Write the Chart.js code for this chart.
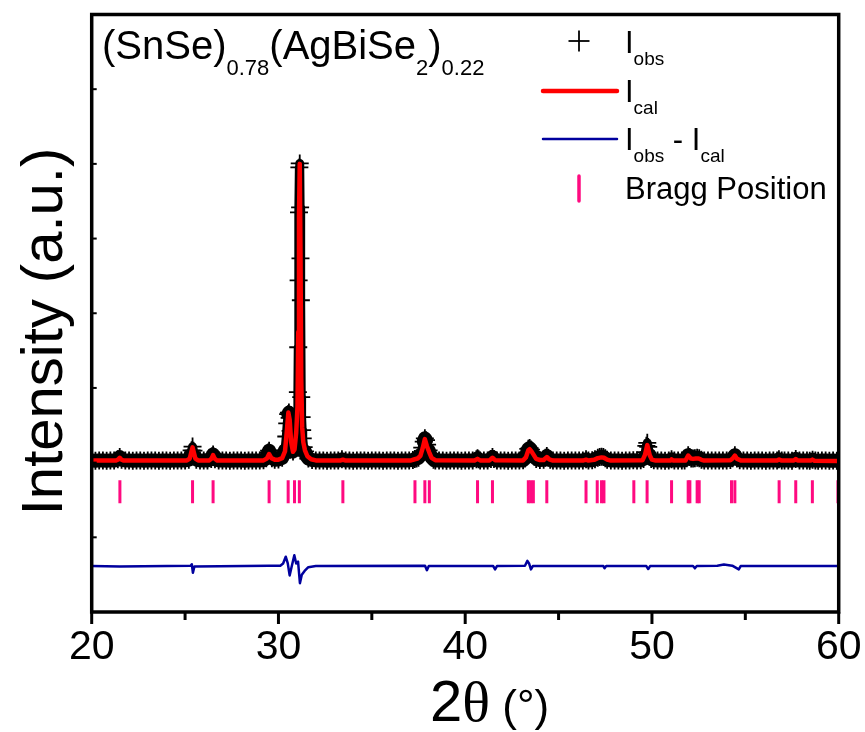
<!DOCTYPE html>
<html>
<head>
<meta charset="utf-8">
<title>(SnSe)0.78(AgBiSe2)0.22 Rietveld refinement</title>
<script src="https://cdn.jsdelivr.net/npm/chart.js@4.4.1/dist/chart.umd.min.js"></script>
<style>
  html, body { margin: 0; padding: 0; background: #ffffff; }
  #wrap { width: 865px; height: 732px; }
</style>
</head>
<body>
<div id="wrap"><canvas id="xrd" width="865" height="732"></canvas></div>
<script>
// ---- Pattern data: [2theta (deg), intensity (a.u.)] ----

// Calculated profile (red)
const calculated = [
  [20.0, 55], [21.3, 55], [21.42, 85], [21.5, 130], [21.58, 85], [21.7, 55],
  [25.1, 60], [25.25, 110], [25.33, 270], [25.4, 410], [25.47, 270], [25.55, 110], [25.7, 60],
  [26.3, 60], [26.42, 110], [26.5, 200], [26.58, 110], [26.7, 60],
  [29.2, 60], [29.38, 110], [29.5, 230], [29.62, 120], [29.8, 80],
  [30.0, 80], [30.2, 120], [30.35, 300], [30.45, 850], [30.53, 1340], [30.6, 1150], [30.68, 550],
  [30.78, 290], [30.86, 350], [30.95, 800],
  [31.02, 1500], [31.06, 3500], [31.1, 6600], [31.14, 8000], [31.18, 5600], [31.22, 2250],
  [31.27, 950], [31.33, 550], [31.42, 330], [31.55, 170], [31.75, 90], [32.0, 60],
  [33.3, 55], [33.45, 80], [33.6, 55],
  [37.1, 60], [37.3, 90], [37.45, 110], [37.6, 180], [37.72, 380], [37.84, 630], [37.95, 440],
  [38.08, 270], [38.2, 130], [38.4, 65],
  [40.5, 55], [40.66, 100], [40.8, 60],
  [41.3, 60], [41.46, 130], [41.6, 65],
  [43.1, 60], [43.25, 140], [43.38, 330], [43.45, 360], [43.55, 300], [43.65, 220], [43.8, 100],
  [44.0, 70], [44.2, 70], [44.37, 150], [44.5, 90], [44.7, 55],
  [46.3, 55], [46.47, 80], [46.6, 55], [46.9, 75], [47.1, 120], [47.3, 140], [47.43, 130],
  [47.6, 80], [47.8, 55],
  [49.5, 65], [49.62, 200], [49.75, 470], [49.88, 200], [50.0, 80], [50.2, 55],
  [51.0, 55], [51.05, 85], [51.15, 55],
  [51.8, 60], [51.94, 190], [52.08, 110], [52.2, 100], [52.35, 110], [52.5, 110], [52.65, 75], [52.8, 55],
  [54.2, 65], [54.32, 110], [54.44, 190], [54.56, 100], [54.75, 60],
  [56.7, 55], [56.81, 85], [56.95, 55],
  [57.6, 55], [57.7, 95], [57.8, 55],
  [58.5, 55], [58.59, 80], [58.7, 50],
  [60.0, 45]
];

// Observed counts (black crosses)
const observed = [
  [20.0, 55], [20.2, 50], [20.4, 60], [20.6, 55], [20.8, 50], [21.0, 60], [21.2, 55],
  [21.4, 90], [21.5, 150], [21.6, 80], [21.8, 55], [22.0, 60], [22.2, 50], [22.4, 55],
  [22.6, 60], [22.8, 50], [23.0, 55], [23.2, 60], [23.4, 55], [23.6, 50], [23.8, 60],
  [24.0, 55], [24.2, 50], [24.4, 60], [24.6, 55], [24.8, 55], [25.0, 60],
  [25.2, 80], [25.3, 200], [25.35, 330], [25.4, 430], [25.45, 320], [25.5, 170], [25.6, 80],
  [25.8, 60], [26.0, 55], [26.2, 60],
  [26.4, 100], [26.45, 170], [26.5, 220], [26.55, 160], [26.6, 90], [26.8, 60],
  [27.0, 55], [27.2, 60], [27.4, 50], [27.6, 55], [27.8, 60], [28.0, 55], [28.2, 50],
  [28.4, 60], [28.6, 55], [28.8, 60], [29.0, 55], [29.2, 65],
  [29.35, 120], [29.45, 270], [29.5, 320], [29.55, 250], [29.65, 120], [29.8, 80],
  [30.0, 85], [30.2, 130], [30.35, 330], [30.42, 700], [30.47, 1050], [30.52, 1300],
  [30.56, 1340], [30.6, 1200], [30.65, 850], [30.7, 500], [30.78, 300], [30.86, 360],
  [30.93, 600], [31.0, 1217], [31.04, 1886], [31.06, 3090], [31.08, 4883], [31.1, 6702],
  [31.12, 7906], [31.14, 8013], [31.16, 6836], [31.18, 5472], [31.2, 4348], [31.22, 1752],
  [31.24, 1217], [31.27, 869], [31.3, 650], [31.35, 414], [31.42, 300], [31.5, 180],
  [31.6, 110], [31.8, 70], [32.0, 60],
  [32.2, 55], [32.4, 60], [32.6, 50], [32.8, 55], [33.0, 60], [33.2, 55], [33.4, 90],
  [33.6, 55], [33.8, 60], [34.0, 50], [34.2, 55], [34.4, 60], [34.6, 55], [34.8, 50],
  [35.0, 60], [35.2, 55], [35.4, 60], [35.6, 50], [35.8, 55], [36.0, 60], [36.2, 55],
  [36.4, 50], [36.6, 60], [36.8, 55], [37.0, 60],
  [37.2, 70], [37.3, 100], [37.4, 110], [37.5, 130], [37.6, 200], [37.7, 400], [37.78, 560],
  [37.84, 650], [37.9, 600], [37.96, 480], [38.04, 330], [38.1, 240], [38.2, 140],
  [38.3, 80], [38.4, 60],
  [38.6, 55], [38.8, 60], [39.0, 50], [39.2, 55], [39.4, 60], [39.6, 55], [39.8, 50],
  [40.0, 60], [40.2, 55], [40.4, 60],
  [40.6, 90], [40.66, 120], [40.72, 90], [40.8, 60], [41.0, 55], [41.2, 60],
  [41.38, 100], [41.46, 150], [41.54, 100], [41.7, 60],
  [41.9, 55], [42.1, 60], [42.3, 50], [42.5, 55], [42.7, 60], [42.9, 55], [43.1, 65],
  [43.2, 110], [43.3, 250], [43.38, 370], [43.45, 390], [43.52, 350], [43.6, 260],
  [43.7, 160], [43.8, 100], [44.0, 70], [44.2, 75], [44.3, 130], [44.37, 180],
  [44.44, 130], [44.55, 80], [44.7, 55],
  [44.9, 60], [45.1, 55], [45.3, 50], [45.5, 60], [45.7, 55], [45.9, 60], [46.1, 55],
  [46.3, 60], [46.47, 90], [46.6, 55], [46.8, 65], [46.95, 90], [47.1, 130], [47.2, 150],
  [47.3, 160], [47.4, 150], [47.5, 120], [47.6, 80], [47.8, 55],
  [48.0, 60], [48.2, 55], [48.4, 50], [48.6, 60], [48.8, 55], [49.0, 65], [49.2, 60], [49.4, 65],
  [49.55, 100], [49.64, 280], [49.7, 450], [49.75, 530], [49.8, 420], [49.88, 200],
  [49.96, 100], [50.1, 65],
  [50.3, 55], [50.5, 60], [50.7, 50], [50.9, 55], [51.05, 90], [51.2, 55], [51.4, 60],
  [51.6, 55], [51.75, 60],
  [51.86, 120], [51.94, 200], [52.02, 150], [52.1, 110], [52.2, 110], [52.3, 120],
  [52.42, 130], [52.53, 120], [52.65, 80], [52.8, 55],
  [53.0, 60], [53.2, 55], [53.4, 60], [53.6, 55], [53.8, 60], [54.0, 60], [54.2, 70],
  [54.32, 120], [54.44, 200], [54.55, 110], [54.7, 65],
  [54.9, 55], [55.1, 60], [55.3, 50], [55.5, 55], [55.7, 60], [55.9, 55], [56.1, 50],
  [56.3, 60], [56.5, 55], [56.7, 60], [56.8, 90], [56.95, 55], [57.1, 60], [57.3, 55],
  [57.5, 50], [57.7, 100], [57.9, 55], [58.1, 60], [58.3, 55], [58.45, 50], [58.6, 80],
  [58.75, 55], [58.9, 50], [59.1, 55], [59.3, 60], [59.5, 50], [59.7, 55], [59.9, 50], [60.0, 50]
];

// Difference curve (blue), offset below the pattern
const difference = [
  [20.0, -2770], [21.5, -2780], [25.3, -2760], [25.36, -2720], [25.42, -2950], [25.5, -2780],
  [29.5, -2760], [30.1, -2760], [30.25, -2700], [30.39, -2520], [30.5, -2700], [30.6, -3020],
  [30.7, -2800], [30.85, -2480], [30.95, -2700], [31.05, -2650], [31.15, -3230], [31.25, -3000],
  [31.4, -2900], [31.6, -2800], [32.0, -2770],
  [37.85, -2760], [37.95, -2880], [38.05, -2770],
  [41.5, -2770], [41.6, -2860], [41.7, -2770],
  [43.2, -2760], [43.33, -2630], [43.42, -2700], [43.52, -2860], [43.62, -2770],
  [47.4, -2770], [47.46, -2830], [47.55, -2770],
  [49.7, -2770], [49.8, -2850], [49.9, -2770],
  [52.2, -2770], [52.3, -2830], [52.4, -2770],
  [53.5, -2760], [53.85, -2730], [54.3, -2760], [54.65, -2860], [54.75, -2770],
  [60.0, -2770]
];

// Allowed reflection positions (pink ticks)
const braggPositions = [
  21.51, 25.40, 26.50, 29.50, 30.52, 30.86, 31.12, 33.45, 37.31, 37.84, 38.08,
  40.66, 41.46, 43.38, 43.51, 43.65, 44.37, 46.47, 47.07, 47.30, 47.43, 49.03,
  49.74, 51.05, 51.94, 52.03, 52.42, 52.53, 54.26, 54.44, 56.81, 57.70, 58.59, 59.96
];
const braggLevel = -780;

// Axis ranges and ticks
const xRange = [20, 60];
const xMajorTicks = [20, 30, 40, 50, 60];
const xMinorTicks = [25, 35, 45, 55];
const yRange = [-4000, 12000];
const yStep = 2000;

// ---- Styling ----
const SANS = "'Liberation Sans', Arial, sans-serif";
const SERIF = "'Liberation Serif', 'Times New Roman', serif";
const RED = '#ff0000';
const BLUE = '#00009e';
const PINK = '#ff0a80';

const toXY = (pairs) => pairs.map(([x, y]) => ({ x, y }));

function line(ctx, x1, y1, x2, y2) {
  ctx.beginPath();
  ctx.moveTo(x1, y1);
  ctx.lineTo(x2, y2);
  ctx.stroke();
}

// Draws text runs [text, fontSize, baselineShift, family] left to right
function drawRuns(ctx, x, y, runs) {
  let cx = x;
  for (const [text, size, shift, family] of runs) {
    ctx.font = size + 'px ' + (family || SANS);
    ctx.fillText(text, cx, y + shift);
    cx += ctx.measureText(text).width;
  }
  return cx;
}

const frameAndLabels = {
  id: 'frameAndLabels',
  afterDatasetsDraw(chart) {
    const { ctx, chartArea: a, scales } = chart;
    const xs = scales.x, ys = scales.y;
    ctx.save();
    ctx.strokeStyle = '#000';
    ctx.lineCap = 'butt';
    // plot frame
    ctx.lineWidth = 3.5;
    ctx.strokeRect(a.left, a.top, a.right - a.left, a.bottom - a.top);
    // x ticks, outward
    ctx.lineWidth = 3;
    for (const v of xMajorTicks) {
      const px = xs.getPixelForValue(v);
      line(ctx, px, a.bottom, px, a.bottom + 12);
    }
    for (const v of xMinorTicks) {
      const px = xs.getPixelForValue(v);
      line(ctx, px, a.bottom, px, a.bottom + 8);
    }
    // y ticks, inward
    ctx.lineWidth = 2;
    for (const t of ys.ticks) {
      const py = ys.getPixelForValue(t.value);
      line(ctx, a.left, py, a.left + 5, py);
    }
    ctx.restore();
  },
  afterDraw(chart) {
    const { ctx } = chart;
    ctx.save();
    ctx.fillStyle = '#000';
    ctx.textBaseline = 'alphabetic';
    ctx.textAlign = 'left';

    // composition label
    drawRuns(ctx, 102, 59, [
      ['(SnSe)', 40, 0], ['0.78', 22, 16], ['(AgBiSe', 40, 0], ['2', 22, 16],
      [')', 40, 0], ['0.22', 22, 16]
    ]);

    // y axis title
    ctx.save();
    ctx.translate(62, 331.5);
    ctx.rotate(-Math.PI / 2);
    ctx.textAlign = 'center';
    ctx.font = '58px ' + SANS;
    ctx.fillText('Intensity (a.u.)', 0, 0);
    ctx.restore();

    // x axis title
    drawRuns(ctx, 430, 721, [['2', 58, 0], ['\u03B8', 58, 0, SERIF], [' (\u00B0)', 44, 0]]);

    // legend
    const sx = 579, lx0 = 543, lx1 = 617, tx = 625;
    ctx.strokeStyle = '#000';
    ctx.lineWidth = 1.8;
    line(ctx, sx - 10.5, 41, sx + 10.5, 41);
    line(ctx, sx, 30.5, sx, 51.5);
    drawRuns(ctx, tx, 53, [['I', 31, 0], ['obs', 19, 12]]);

    ctx.lineCap = 'round';
    ctx.strokeStyle = RED;
    ctx.lineWidth = 4.5;
    line(ctx, lx0, 91, lx1, 91);
    drawRuns(ctx, tx, 102, [['I', 31, 0], ['cal', 19, 12]]);

    ctx.strokeStyle = BLUE;
    ctx.lineWidth = 2.5;
    line(ctx, lx0, 139, lx1, 139);
    drawRuns(ctx, tx, 150, [['I', 31, 0], ['obs', 19, 12], [' - ', 31, 0], ['I', 31, 0], ['cal', 19, 12]]);

    ctx.strokeStyle = PINK;
    ctx.lineWidth = 3.5;
    line(ctx, sx, 176, sx, 201);
    drawRuns(ctx, tx, 199, [['Bragg Position', 31, 0]]);
    ctx.restore();
  }
};

new Chart(document.getElementById('xrd'), {
  type: 'scatter',
  data: {
    datasets: [
      {
        label: 'Ical',
        data: toXY(calculated),
        showLine: true,
        borderColor: RED,
        borderWidth: 4.5,
        borderJoinStyle: 'round',
        pointRadius: 0,
        order: 1,
        clip: 0
      },
      {
        label: 'Iobs',
        data: toXY(observed),
        showLine: true,
        borderColor: '#000',
        borderWidth: 14,
        borderJoinStyle: 'round',
        borderCapStyle: 'round',
        segment: {
          borderWidth: (c) => Math.abs(c.p1.y - c.p0.y) > 3 * Math.abs(c.p1.x - c.p0.x) ? 9 : 14
        },
        pointStyle: 'cross',
        pointRadius: 9,
        pointBorderWidth: 1.8,
        pointBorderColor: '#000',
        pointBackgroundColor: '#000',
        order: 2,
        clip: 0
      },
      {
        label: 'Iobs - Ical',
        data: toXY(difference),
        showLine: true,
        borderColor: BLUE,
        borderWidth: 2.5,
        borderJoinStyle: 'round',
        pointRadius: 0,
        order: 0,
        clip: 0
      },
      {
        label: 'Bragg Position',
        data: braggPositions.map((x) => ({ x, y: braggLevel })),
        showLine: false,
        pointStyle: 'line',
        rotation: 90,
        pointRadius: 11.5,
        pointBorderWidth: 3,
        pointBorderColor: PINK,
        order: 0,
        clip: 0
      }
    ]
  },
  options: {
    responsive: false,
    animation: false,
    devicePixelRatio: 1,
    events: [],
    layout: { padding: { top: 14, right: 26.3, left: 0, bottom: 0 } },
    plugins: { legend: { display: false }, tooltip: { enabled: false } },
    scales: {
      x: {
        type: 'linear',
        min: xRange[0],
        max: xRange[1],
        afterFit(s) { s.height = 120; s.paddingLeft = 0; s.paddingRight = 0; },
        ticks: {
          stepSize: 10,
          maxRotation: 0,
          autoSkip: false,
          color: '#000',
          padding: 11,
          font: { family: SANS, size: 41 }
        },
        grid: { display: false, drawTicks: false },
        border: { display: false }
      },
      y: {
        type: 'linear',
        min: yRange[0],
        max: yRange[1],
        afterFit(s) { s.width = 91.7; s.paddingTop = 0; s.paddingBottom = 0; },
        ticks: { display: false, stepSize: yStep },
        grid: { display: false, drawTicks: false },
        border: { display: false }
      }
    }
  },
  plugins: [frameAndLabels]
});
</script>
</body>
</html>
